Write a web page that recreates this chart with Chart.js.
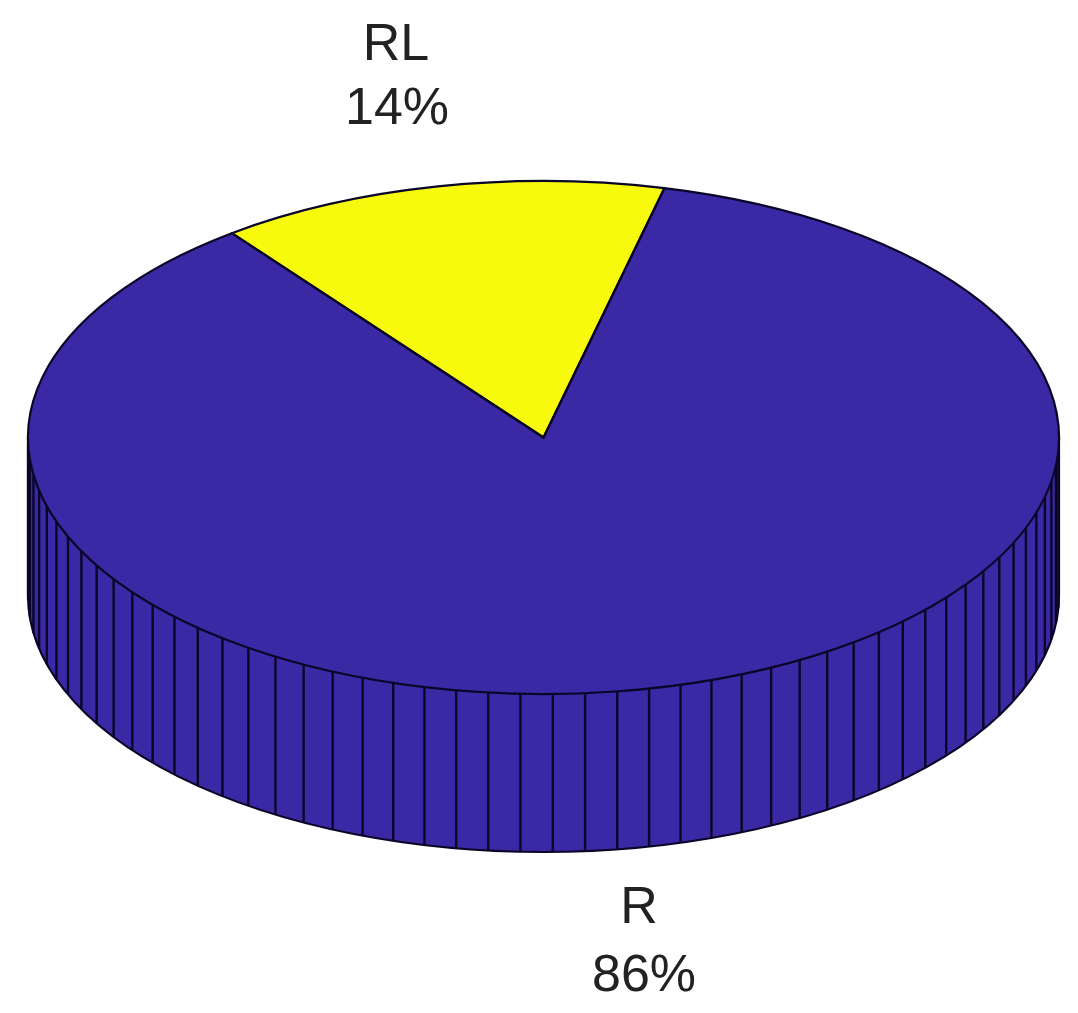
<!DOCTYPE html>
<html>
<head>
<meta charset="utf-8">
<style>
html,body{margin:0;padding:0;background:#fff;overflow:hidden}
#wrap{position:relative;width:1078px;height:1013px}
canvas{display:block;filter:blur(0.75px)}
</style>
<script src="https://cdn.jsdelivr.net/npm/chart.js@4"></script>
</head>
<body>
<div id="wrap"><canvas id="c" width="1078" height="1013"></canvas></div>
<script>
const categories = ['RL', 'R'];
const values = [14.1, 85.9];
const sliceColors = ['#f8fa0e', '#3b28a4'];

const view = { cx: 543.5, cy: 437.5, rx: 515.5, ry: 256.5, depth: 158 };
const rotationDeg = -37.2;
const edgeColor = '#0a0628';
const labelSpots = [
  { nameX: 396, pctX: 397, nameY: 60, pctY: 124 },
  { nameX: 639, pctX: 644, nameY: 923, pctY: 991 }
];

const pie3d = {
  id: 'pie3d',
  beforeDatasetsDraw(chart) {
    const ctx = chart.ctx;
    const arcs = chart.getDatasetMeta(0).data;
    const { cx, cy, rx, ry, depth } = view;
    ctx.save();
    arcs.forEach((arc, i) => {
      const p = arc.getProps(['startAngle', 'endAngle']);
      const n = Math.ceil(values[i]);
      const step = (p.endAngle - p.startAngle) / n;
      for (let k = 0; k < n; k++) {
        const a0 = Math.max(0, p.startAngle + k * step);
        const a1 = Math.min(Math.PI, p.startAngle + (k + 1) * step);
        if (a0 >= a1) continue;
        ctx.beginPath();
        ctx.ellipse(cx, cy, rx, ry, 0, a0, a1);
        ctx.ellipse(cx, cy + depth, rx, ry, 0, a1, a0, true);
        ctx.closePath();
        ctx.fillStyle = sliceColors[i];
        ctx.fill();
      }
      ctx.strokeStyle = edgeColor;
      ctx.lineWidth = 2.4;
      for (let k = 0; k <= n; k++) {
        const a = p.startAngle + k * step;
        if (a < 0 || a > Math.PI) continue;
        const x = cx + rx * Math.cos(a);
        const y = cy + ry * Math.sin(a);
        ctx.beginPath();
        ctx.moveTo(x, y);
        ctx.lineTo(x, y + depth);
        ctx.stroke();
      }
    });
    ctx.beginPath();
    ctx.moveTo(cx - rx, cy);
    ctx.lineTo(cx - rx, cy + depth);
    ctx.ellipse(cx, cy + depth, rx, ry, 0, Math.PI, 0, true);
    ctx.lineTo(cx + rx, cy);
    ctx.strokeStyle = edgeColor;
    ctx.lineWidth = 2.2;
    ctx.stroke();
    ctx.restore();

    const a = arcs[0];
    ctx.save();
    ctx.translate(cx, cy);
    ctx.scale(rx / a.outerRadius, ry / a.outerRadius);
    ctx.translate(-a.x, -a.y);
  },
  afterDatasetsDraw(chart) {
    const ctx = chart.ctx;
    const arcs = chart.getDatasetMeta(0).data;
    // outline each slice under the squashed transform, stroke with an even pen
    arcs.forEach(arc => {
      const p = arc.getProps(['x', 'y', 'startAngle', 'endAngle', 'outerRadius']);
      ctx.beginPath();
      ctx.moveTo(p.x, p.y);
      ctx.arc(p.x, p.y, p.outerRadius, p.startAngle, p.endAngle);
      ctx.closePath();
      ctx.save();
      ctx.setTransform(1, 0, 0, 1, 0, 0);
      ctx.strokeStyle = edgeColor;
      ctx.lineWidth = 2.2;
      ctx.lineJoin = 'round';
      ctx.stroke();
      ctx.restore();
    });
    ctx.restore();

    ctx.save();
    ctx.font = '52px "Liberation Sans", Arial, sans-serif';
    ctx.fillStyle = '#222222';
    ctx.textAlign = 'center';
    ctx.textBaseline = 'alphabetic';
    categories.forEach((name, i) => {
      const s = labelSpots[i];
      ctx.fillText(name, s.nameX, s.nameY);
      ctx.fillText(Math.round(values[i]) + '%', s.pctX, s.pctY);
    });
    ctx.restore();
  }
};

new Chart(document.getElementById('c'), {
  type: 'pie',
  data: {
    labels: categories,
    datasets: [{
      data: values,
      backgroundColor: sliceColors,
      borderWidth: 0,
      hoverOffset: 0
    }]
  },
  options: {
    responsive: false,
    animation: false,
    rotation: rotationDeg,
    events: [],
    plugins: { legend: { display: false }, tooltip: { enabled: false } }
  },
  plugins: [pie3d]
});
</script>
</body>
</html>
